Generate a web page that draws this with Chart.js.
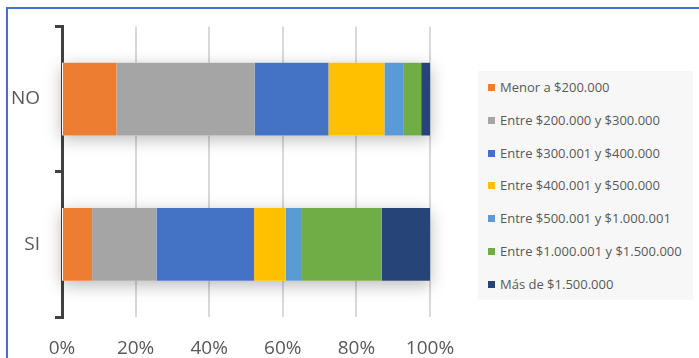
<!DOCTYPE html>
<html lang="es">
<head>
<meta charset="utf-8">
<title>Ingreso familiar por grupo</title>
<script src="https://cdn.jsdelivr.net/npm/chart.js@4.4.1/dist/chart.umd.min.js"></script>
<style>
  html, body { margin: 0; padding: 0; background: #fff; }
  #wrap { position: relative; width: 699px; height: 358px; overflow: hidden; }
  #frame {
    position: absolute; left: 6px; top: 7px; right: -10px; bottom: -10px;
    border-top: 2px solid #4472C4; border-left: 2px solid #4472C4;
  }
  #grafico { position: absolute; left: 0; top: 0; }
  #leyenda {
    position: absolute; left: 478px; top: 71px; width: 215px; height: 229px;
    background: #F7F7F7; font-family: "Open Sans", sans-serif; font-size: 13px;
    color: #595959;
  }
  #leyenda .item { height: 32.8px; line-height: 32.8px; padding-left: 10px; white-space: nowrap; }
  #leyenda .marca { display: inline-block; width: 7px; height: 7px; margin-right: 5px; vertical-align: middle; position: relative; top: -1px; }
</style>
</head>
<body>
<div id="wrap">
  <div id="frame"></div>
  <canvas id="grafico" width="699" height="358"></canvas>
  <div id="leyenda"></div>
</div>
<script>
// Categorías (eje Y) y rangos de ingreso (series)
const categorias = ['NO', 'SI'];
const rangos = [
  'Menor a $200.000',
  'Entre $200.000 y $300.000',
  'Entre $300.001 y $400.000',
  'Entre $400.001 y $500.000',
  'Entre $500.001 y $1.000.001',
  'Entre $1.000.001 y $1.500.000',
  'Más de $1.500.000'
];
const colores = ['#ED7D31', '#A5A5A5', '#4472C4', '#FFC000', '#5B9BD5', '#70AD47', '#264478'];

// Porcentajes por categoría [NO, SI]
const menor200 = [14.8, 8.2];
const entre200y300 = [37.6, 17.5];
const entre300y400 = [20.0, 26.5];
const entre400y500 = [15.2, 8.6];
const entre500y1000 = [5.1, 4.4];
const entre1000y1500 = [4.9, 21.7];
const mas1500 = [2.4, 13.1];

// Marcas del eje X
const ticksX = [0, 20, 40, 60, 80, 100];

const series = [menor200, entre200y300, entre300y400, entre400y500, entre500y1000, entre1000y1500, mas1500];

const textoGris = '#595959';
const fuente = '"Open Sans", sans-serif';

// Sombra suave detrás de cada barra apilada
const sombraBarras = {
  id: 'sombraBarras',
  beforeDatasetsDraw(chart) {
    const ctx = chart.ctx;
    const x = chart.scales.x;
    const meta = chart.getDatasetMeta(0);
    const x0 = x.getPixelForValue(0);
    const x1 = x.getPixelForValue(100);
    meta.data.forEach(bar => {
      const h = bar.height;
      ctx.save();
      ctx.shadowColor = 'rgba(0, 0, 0, 0.28)';
      ctx.shadowBlur = 16;
      ctx.shadowOffsetY = 4;
      ctx.fillStyle = '#ffffff';
      ctx.fillRect(x0, bar.y - h / 2, x1 - x0, h);
      ctx.restore();
    });
  }
};

const chart = new Chart(document.getElementById('grafico'), {
  type: 'bar',
  data: {
    labels: categorias,
    datasets: series.map((valores, i) => ({
      label: rangos[i],
      data: valores,
      backgroundColor: colores[i],
      borderWidth: 0,
      barPercentage: 0.5,
      categoryPercentage: 1
    }))
  },
  options: {
    indexAxis: 'y',
    responsive: false,
    animation: false,
    devicePixelRatio: 1,
    layout: { padding: { top: 24, right: 269, left: 0, bottom: 0 } },
    plugins: {
      legend: { display: false },
      tooltip: { enabled: false }
    },
    scales: {
      x: {
        type: 'linear',
        stacked: true,
        min: 0,
        max: 100,
        afterFit(scale) { scale.height = 41; },
        afterBuildTicks(scale) { scale.ticks = ticksX.map(v => ({ value: v })); },
        grid: { color: '#D9D9D9', lineWidth: 2, drawTicks: false },
        border: { display: false },
        ticks: {
          padding: 20,
          color: textoGris,
          font: { family: fuente, size: 19 },
          callback: v => v + '%'
        }
      },
      y: {
        stacked: true,
        afterFit(scale) { scale.width = 62; },
        grid: {
          offset: true,
          drawOnChartArea: false,
          drawTicks: true,
          tickLength: 7,
          color: '#404040',
          lineWidth: 3
        },
        border: { display: true, color: '#404040', width: 3 },
        ticks: {
          padding: 15,
          color: textoGris,
          font: { family: fuente, size: 19 }
        }
      }
    }
  },
  plugins: [sombraBarras]
});

// Leyenda a la derecha, construida desde las series
const leyenda = document.getElementById('leyenda');
chart.data.datasets.forEach(ds => {
  const item = document.createElement('div');
  item.className = 'item';
  const marca = document.createElement('span');
  marca.className = 'marca';
  marca.style.background = ds.backgroundColor;
  item.appendChild(marca);
  item.appendChild(document.createTextNode(ds.label));
  leyenda.appendChild(item);
});
</script>
</body>
</html>
